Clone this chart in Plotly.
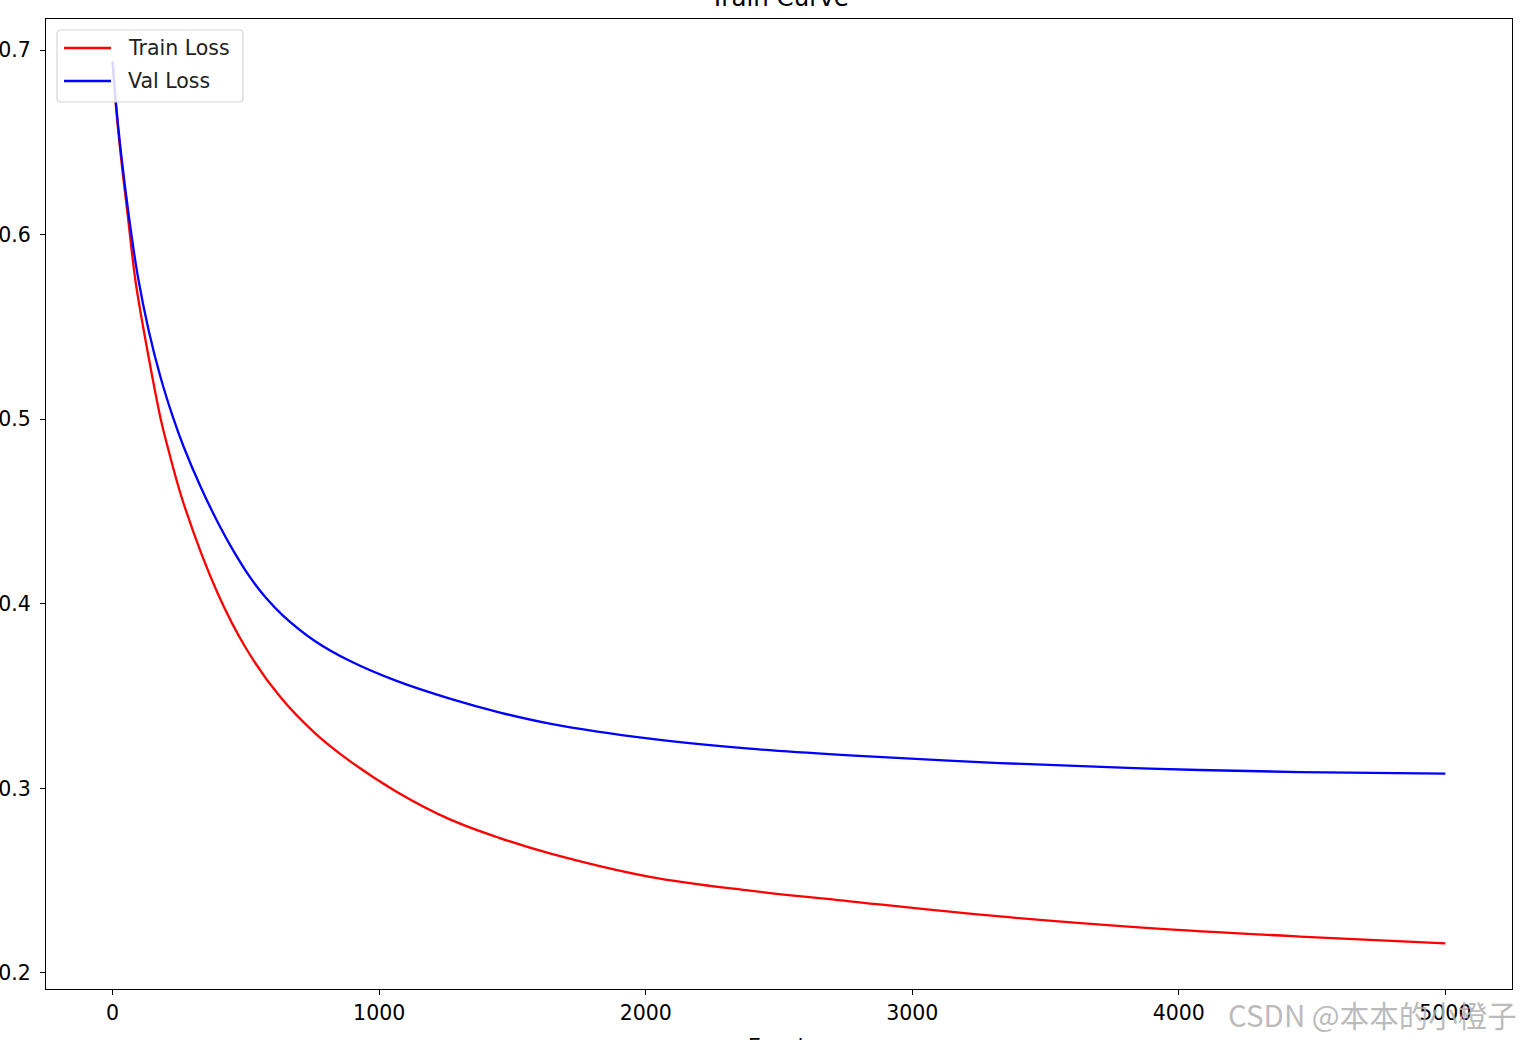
import plotly.graph_objects as go

# Data
train_epochs = [0, 10, 30, 57, 86, 132, 181, 208, 267, 394, 502, 630, 760, 889, 1065, 1265, 1450,
                1640, 2015, 2390, 2765, 3328, 3891, 4454, 5000]
train_loss = [0.6937, 0.6737, 0.6437, 0.6100, 0.5746, 0.5360, 0.4997, 0.4841, 0.4540, 0.4057, 0.3755,
              0.3493, 0.3298, 0.3149, 0.2982, 0.2832, 0.2732, 0.2648, 0.2521, 0.2446, 0.2388, 0.2306,
              0.2243, 0.2197, 0.2160]

val_epochs = [0, 10, 30, 60, 95, 135, 180, 226, 266, 330, 389, 450, 514, 575, 639, 760, 889, 1065,
              1265, 1450, 1640, 2015, 2390, 2765, 3328, 3891, 4454, 5000]
val_loss = [0.6937, 0.6750, 0.6460, 0.6110, 0.5770, 0.5482, 0.5226, 0.5012, 0.4852, 0.4634, 0.4457,
            0.4295, 0.4147, 0.4032, 0.3936, 0.3797, 0.3691, 0.3582, 0.3486, 0.3412, 0.3351, 0.3269,
            0.3215, 0.3179, 0.3137, 0.3107, 0.3088, 0.3080]

series_names = ["Train Loss", "Val Loss"]
series_colors = ["red", "blue"]

x_ticks = [0, 1000, 2000, 3000, 4000, 5000]
y_ticks = [0.2, 0.3, 0.4, 0.5, 0.6, 0.7]

FONT = "DejaVu Sans"
W, H = 1522, 1040
PL, PR, PT, PB = 46, 1512, 19, 989  # plot area in pixels


def fx(xp):
    return (xp - PL) / (PR - PL)


def fy(yp):
    return (PB - yp) / (PB - PT)


fig = go.Figure()
for xs, ys, name, color in [(train_epochs, train_loss, series_names[0], series_colors[0]),
                            (val_epochs, val_loss, series_names[1], series_colors[1])]:
    fig.add_trace(go.Scatter(x=xs, y=ys, mode="lines", name=name, showlegend=False,
                             line=dict(color=color, width=2.3, shape="spline", smoothing=1.0)))

axis_common = dict(showline=True, mirror=True, linecolor="black", linewidth=1.2,
                   ticks="outside", ticklen=5, tickwidth=1.2, tickcolor="black",
                   showgrid=False, zeroline=False,
                   tickfont=dict(family=FONT, size=20.5, color="black"))

fig.update_xaxes(range=[-250, 5250], tickvals=x_ticks, ticktext=[str(v) for v in x_ticks], **axis_common)
fig.update_yaxes(range=[0.1913, 0.7168], tickvals=y_ticks, ticktext=[f"{v:.1f}" for v in y_ticks],
                 ticklabelstandoff=5, **axis_common)

# Hand-drawn legend box (matplotlib style, rounded corners)
bx0, bx1, by0, by1, r = 57, 243, 30, 102, 4


def P(xp, yp):
    return f"{fx(xp):.6f},{fy(yp):.6f}"


legend_path = (f"M {P(bx0 + r, by0)} L {P(bx1 - r, by0)} Q {P(bx1, by0)} {P(bx1, by0 + r)} "
               f"L {P(bx1, by1 - r)} Q {P(bx1, by1)} {P(bx1 - r, by1)} "
               f"L {P(bx0 + r, by1)} Q {P(bx0, by1)} {P(bx0, by1 - r)} "
               f"L {P(bx0, by0 + r)} Q {P(bx0, by0)} {P(bx0 + r, by0)} Z")

shapes = [dict(type="path", xref="paper", yref="paper", path=legend_path,
               fillcolor="rgba(255,255,255,0.85)", line=dict(color="#d5d5d5", width=1.2), layer="above")]
annotations = []
for i, (name, color) in enumerate(zip(series_names, series_colors)):
    yc = 48 + 33 * i
    shapes.append(dict(type="line", xref="paper", yref="paper", x0=fx(64), x1=fx(111), y0=fy(yc), y1=fy(yc),
                       line=dict(color=color, width=2.3), layer="above"))
    annotations.append(dict(text=name, xref="paper", yref="paper", x=fx(126), y=fy(yc),
                            xanchor="left", yanchor="middle", showarrow=False,
                            font=dict(family=FONT, size=20.5, color="#222222")))

annotations += [
    dict(text="Train Curve", xref="paper", yref="paper", x=0.5, y=1.0, yshift=5,
         xanchor="center", yanchor="bottom", showarrow=False,
         font=dict(family=FONT, size=24.5, color="black")),
    dict(text="Epoch", xref="paper", yref="paper", x=0.5, y=0, yshift=-44,
         xanchor="center", yanchor="top", showarrow=False,
         font=dict(family=FONT, size=20.5, color="black")),
    dict(text="CSDN @本本的小橙子", xref="paper", yref="paper", x=fx(1519), y=0, yshift=-25,
         xanchor="right", yanchor="middle", showarrow=False,
         font=dict(family="Noto Sans CJK SC", size=29.5, color="rgba(175,175,175,0.85)")),
]

fig.update_layout(
    width=W, height=H,
    margin=dict(l=PL, r=W - PR, t=PT, b=H - PB, autoexpand=False),
    paper_bgcolor="white", plot_bgcolor="white",
    showlegend=False,
    shapes=shapes,
    annotations=annotations,
)

fig.write_html("out.html", config={"displayModeBar": False},
               post_script="document.body.style.margin='0';document.body.style.overflow='hidden';")
